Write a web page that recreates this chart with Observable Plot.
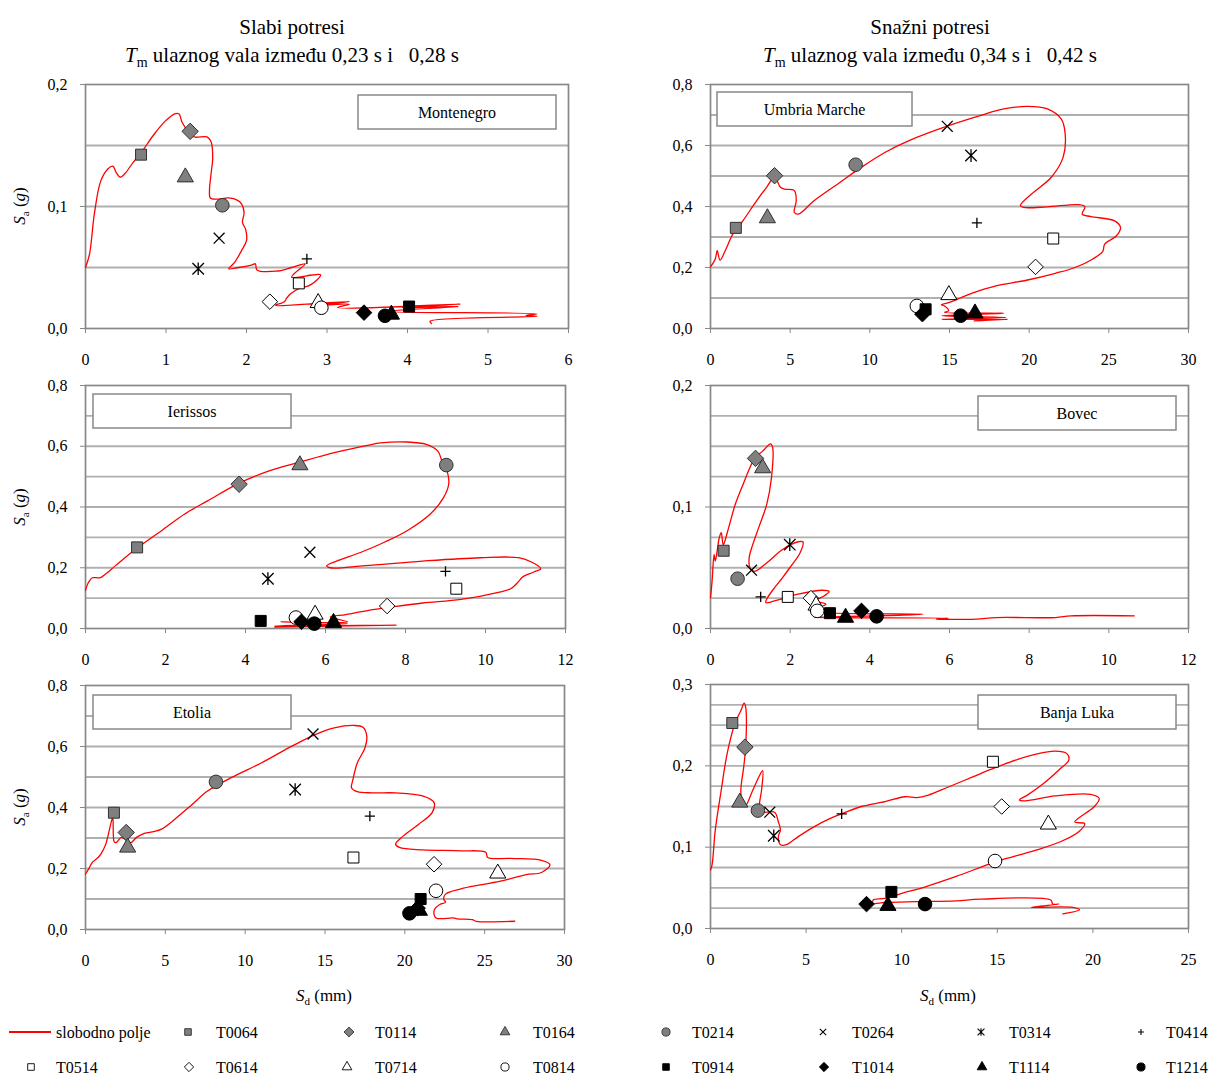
<!DOCTYPE html>
<html><head><meta charset="utf-8">
<script src="https://cdn.jsdelivr.net/npm/d3@7"></script>
<script src="https://cdn.jsdelivr.net/npm/@observablehq/plot@0.6"></script>
<style>
body{margin:0;background:#fff;}
#page{position:relative;width:1219px;height:1076px;font-family:"Liberation Serif",serif;background:#fff;overflow:hidden;}
#page svg, #page svg text{font-family:"Liberation Serif",serif !important;}
#overlay{position:absolute;left:0;top:0;}
</style></head><body><div id="page"></div>
<script>
// ---------- series ----------
const seriesNames = ["T0064","T0114","T0164","T0214","T0264","T0314","T0414","T0514","T0614","T0714","T0814","T0914","T1014","T1114","T1214"];
const freeFieldName = "slobodno polje";

// ---------- Montenegro (weak, top-left) ----------
const montenegroSd = [0.69,1.30,1.24,1.70,1.66,1.40,2.75,2.65,2.29,2.89,2.93,4.02,3.46,3.80,3.72];
const montenegroSa = [0.1425,0.1616,0.124,0.101,0.074,0.049,0.057,0.037,0.022,0.021,0.017,0.018,0.013,0.0115,0.0104];
const montenegroCurve = [[0,0.050],[0.05,0.061],[0.11,0.094],[0.19,0.121],[0.28,0.131],[0.34,0.133],[0.38,0.128],[0.43,0.124],[0.49,0.127],[0.59,0.136],[0.69,0.144],[0.85,0.159],[0.99,0.170],[1.11,0.176],[1.16,0.176],[1.20,0.169],[1.28,0.161],[1.35,0.157],[1.51,0.157],[1.56,0.153],[1.58,0.140],[1.56,0.127],[1.54,0.113],[1.55,0.107],[1.63,0.106],[1.78,0.107],[1.89,0.105],[1.94,0.102],[1.97,0.095],[1.95,0.087],[1.99,0.081],[2.00,0.072],[1.94,0.064],[1.85,0.054],[1.78,0.049],[1.90,0.050],[2.06,0.052],[2.11,0.053],[2.13,0.048],[2.37,0.047],[2.56,0.050],[2.73,0.053],[2.61,0.046],[2.56,0.042],[2.92,0.044],[2.80,0.036],[2.63,0.032],[2.54,0.028],[2.50,0.025],[2.47,0.022],[2.36,0.019],[2.75,0.020],[3.28,0.022],[2.90,0.019],[3.28,0.020],[3.13,0.017],[4.66,0.020],[3.94,0.017],[4.63,0.018],[3.75,0.014],[5.61,0.012],[5.47,0.0107],[5.61,0.010],[4.28,0.006],[4.30,0.004]];

// ---------- Umbria Marche (strong, top-right) ----------
const umbriaSd = [1.59,4.02,3.57,9.11,14.86,16.35,16.72,21.51,20.4,14.96,12.95,13.5,13.3,16.6,15.7];
const umbriaSa = [0.33,0.501,0.362,0.537,0.663,0.567,0.346,0.295,0.202,0.110,0.074,0.063,0.047,0.050,0.042];
const umbriaCurve = [[0,0.202],[0.30,0.228],[0.42,0.255],[0.60,0.224],[0.92,0.255],[1.41,0.310],[2.03,0.353],[2.90,0.419],[3.52,0.463],[4.02,0.496],[4.39,0.463],[4.64,0.457],[5.26,0.452],[5.38,0.419],[5.26,0.381],[5.51,0.375],[6.50,0.419],[7.99,0.474],[9.48,0.529],[10.97,0.578],[12.46,0.616],[14.94,0.665],[16.92,0.698],[18.41,0.720],[19.90,0.728],[21.14,0.720],[22.01,0.687],[22.26,0.638],[22.13,0.561],[21.39,0.496],[20.15,0.441],[19.45,0.403],[19.65,0.397],[21.14,0.399],[23.13,0.406],[23.50,0.399],[23.33,0.375],[23.87,0.367],[25.36,0.353],[25.73,0.332],[25.48,0.304],[24.74,0.277],[24.62,0.253],[24.00,0.228],[22.88,0.200],[21.64,0.181],[19.90,0.159],[17.92,0.140],[16.43,0.116],[15.68,0.100],[14.94,0.085],[14.49,0.078],[14.69,0.074],[14.94,0.058],[14.69,0.053],[18.41,0.050],[14.51,0.042],[18.53,0.036],[14.51,0.030],[18.66,0.030],[16.55,0.025]];

// ---------- Ierissos (weak, middle-left) ----------
const ierissosSd = [1.29,3.84,5.36,9.02,5.61,4.56,9.0,9.27,7.54,5.74,5.26,4.38,5.40,6.20,5.72];
const ierissosSa = [0.267,0.475,0.538,0.538,0.251,0.164,0.188,0.131,0.074,0.046,0.036,0.025,0.022,0.019,0.016];
const ierissosCurve = [[0,0.126],[0.08,0.153],[0.17,0.167],[0.36,0.167],[0.51,0.180],[0.75,0.207],[1.29,0.265],[1.90,0.322],[2.48,0.377],[3.05,0.420],[3.82,0.477],[4.59,0.519],[5.36,0.548],[6.22,0.579],[7.08,0.604],[7.37,0.611],[8.04,0.614],[8.52,0.606],[8.81,0.584],[8.91,0.551],[9.05,0.513],[9.08,0.475],[8.95,0.431],[8.62,0.377],[8.04,0.322],[7.47,0.284],[6.89,0.251],[6.32,0.224],[6.03,0.207],[6.12,0.200],[6.99,0.207],[8.43,0.222],[9.87,0.233],[10.83,0.233],[11.16,0.218],[11.38,0.197],[11.21,0.186],[10.92,0.169],[10.83,0.155],[10.63,0.131],[10.35,0.120],[9.39,0.096],[8.43,0.084],[7.66,0.071],[7.08,0.060],[6.51,0.046],[6.12,0.038],[6.55,0.022],[4.88,0.022],[6.55,0.016],[4.73,0.008],[7.77,0.011],[4.73,0.005]];

// ---------- Bovec (strong, middle-right) ----------
const bovecSd = [0.33,1.13,1.31,0.68,1.03,1.99,1.26,1.94,2.52,2.65,2.68,3.00,3.79,3.39,4.17];
const bovecSa = [0.064,0.140,0.132,0.041,0.048,0.069,0.026,0.026,0.025,0.019,0.0145,0.0126,0.0145,0.009,0.010];
const bovecCurve = [[0,0.0254],[0.04,0.039],[0.09,0.061],[0.12,0.0555],[0.22,0.0747],[0.27,0.0788],[0.32,0.069],[0.42,0.0788],[0.62,0.102],[0.81,0.118],[1.11,0.140],[1.31,0.146],[1.51,0.152],[1.56,0.149],[1.53,0.124],[1.41,0.102],[1.21,0.083],[1.06,0.069],[0.97,0.058],[0.99,0.050],[1.11,0.047],[1.41,0.054],[1.81,0.065],[2.20,0.0714],[2.32,0.0714],[2.25,0.0624],[1.99,0.050],[1.81,0.0419],[1.61,0.0337],[1.41,0.0241],[1.39,0.0213],[1.61,0.0227],[2.20,0.0282],[2.80,0.0315],[2.98,0.0304],[2.85,0.0268],[2.65,0.0227],[2.90,0.020],[2.50,0.0145],[5.33,0.0118],[2.60,0.009],[5.97,0.0085],[5.67,0.0077],[6.67,0.0077],[7.17,0.009],[8.66,0.009],[9.05,0.0104],[10.64,0.0104]];

// ---------- Etolia (weak, bottom-left) ----------
const etoliaSd = [1.78,2.55,2.64,8.17,14.25,13.13,17.81,16.78,21.83,25.82,21.95,20.99,20.8,20.91,20.29];
const etoliaSa = [0.383,0.318,0.269,0.484,0.641,0.459,0.372,0.236,0.214,0.184,0.127,0.100,0.070,0.062,0.053];
const etoliaCurve = [[0,0.182],[0.19,0.198],[0.43,0.220],[0.79,0.236],[0.96,0.247],[1.27,0.280],[1.63,0.356],[1.71,0.367],[1.80,0.287],[1.92,0.285],[2.24,0.302],[2.60,0.291],[2.84,0.285],[3.20,0.302],[3.68,0.315],[4.28,0.321],[4.76,0.329],[5.72,0.367],[6.68,0.410],[7.64,0.454],[9.09,0.497],[11.01,0.546],[12.93,0.601],[14.38,0.639],[15.58,0.661],[16.78,0.669],[17.38,0.663],[17.62,0.633],[17.50,0.595],[17.02,0.546],[16.73,0.487],[16.66,0.465],[17.02,0.452],[17.98,0.448],[19.42,0.448],[21.11,0.438],[21.83,0.416],[21.71,0.383],[20.87,0.345],[19.91,0.307],[19.42,0.280],[19.66,0.269],[21.11,0.261],[23.51,0.258],[25.07,0.253],[25.19,0.236],[26.63,0.233],[28.56,0.227],[29.09,0.212],[28.56,0.187],[27.60,0.180],[26.15,0.160],[24.71,0.146],[23.51,0.133],[22.55,0.116],[22.43,0.100],[22.55,0.089],[22.19,0.082],[21.83,0.062],[21.95,0.038],[23.03,0.038],[23.27,0.035],[24.23,0.032],[24.47,0.027],[26.88,0.027]];

// ---------- Banja Luka (strong, bottom-right) ----------
const banjaLukaSd = [1.14,1.80,1.53,2.48,3.10,3.31,6.86,14.77,15.23,17.67,14.88,9.46,8.16,9.28,11.22];
const banjaLukaSa = [0.2526,0.223,0.155,0.145,0.143,0.114,0.141,0.205,0.150,0.128,0.083,0.045,0.030,0.028,0.030];
const banjaLukaCurve = [[0,0.072],[0.08,0.078],[0.25,0.121],[0.56,0.170],[0.87,0.215],[1.28,0.252],[1.59,0.268],[1.76,0.277],[1.84,0.272],[1.84,0.223],[1.74,0.199],[1.59,0.166],[1.80,0.150],[2.21,0.170],[2.52,0.186],[2.73,0.194],[2.67,0.170],[2.56,0.152],[2.62,0.143],[3.35,0.143],[3.55,0.131],[3.66,0.121],[3.55,0.113],[3.66,0.103],[3.97,0.103],[4.59,0.113],[5.41,0.125],[6.24,0.135],[7.07,0.143],[7.89,0.150],[9.13,0.156],[10.17,0.162],[10.79,0.161],[11.40,0.164],[12.44,0.174],[13.68,0.186],[14.92,0.198],[15.95,0.207],[16.98,0.214],[18.02,0.218],[18.64,0.215],[18.74,0.207],[18.22,0.195],[17.40,0.178],[16.57,0.164],[16.16,0.158],[16.47,0.157],[18.02,0.163],[19.88,0.165],[20.33,0.160],[20.08,0.150],[19.05,0.131],[19.57,0.129],[19.26,0.119],[18.33,0.107],[16.98,0.096],[14.92,0.082],[12.85,0.064],[11.20,0.051],[9.96,0.043],[9.13,0.037],[8.51,0.035],[8.51,0.031],[9.13,0.032],[10.79,0.033],[12.85,0.034],[14.09,0.036],[17.80,0.035],[17.90,0.030],[18.22,0.030],[16.78,0.026],[18.95,0.026],[19.30,0.023],[18.43,0.018]];

// ---------- axis ticks ----------
const ticksX6 = [0,1,2,3,4,5,6];
const ticksX12 = [0,2,4,6,8,10,12];
const ticksX25 = [0,5,10,15,20,25];
const ticksX30 = [0,5,10,15,20,25,30];
const ticksY02 = [0,0.1,0.2];
const ticksY03 = [0,0.1,0.2,0.3];
const ticksY08 = [0,0.2,0.4,0.6,0.8];
const grid02 = [0.05,0.1,0.15];
const grid08 = [0.1,0.2,0.3,0.4,0.5,0.6,0.7];
const grid02fine = [0.025,0.05,0.075,0.1,0.125,0.15,0.175];
const grid03fine = [0.025,0.05,0.075,0.1,0.125,0.15,0.175,0.2,0.225,0.25,0.275];

// ---------- marker styles ----------
const asteriskX = {draw(ctx, size){ const r = Math.sqrt(size)*0.6; ctx.moveTo(-r,-r); ctx.lineTo(r,r); ctx.moveTo(-r,r); ctx.lineTo(r,-r); ctx.moveTo(0,-r*1.1); ctx.lineTo(0,r*1.1); }};
const GRAY = "#7f7f7f";
const markerStyle = [
  {symbol:"square", fill:GRAY, stroke:"#303030", r:6.2},
  {symbol:"diamond2", fill:GRAY, stroke:"#303030", r:7.4},
  {symbol:"triangle", fill:GRAY, stroke:"#303030", r:6.0},
  {symbol:"circle", fill:GRAY, stroke:"#303030", r:6.8},
  {symbol:"times", fill:"none", stroke:"#000", r:5, sw:1.3},
  {symbol:asteriskX, fill:"none", stroke:"#000", r:5.4, sw:1.3},
  {symbol:"plus", fill:"none", stroke:"#000", r:3.4, sw:1.3},
  {symbol:"square", fill:"#fff", stroke:"#000", r:6.2},
  {symbol:"diamond2", fill:"#fff", stroke:"#000", r:7.0},
  {symbol:"triangle", fill:"#fff", stroke:"#000", r:6.0},
  {symbol:"circle", fill:"#fff", stroke:"#000", r:6.8},
  {symbol:"square", fill:"#000", stroke:"#000", r:6.2},
  {symbol:"diamond2", fill:"#000", stroke:"#000", r:7.0},
  {symbol:"triangle", fill:"#000", stroke:"#000", r:6.0},
  {symbol:"circle", fill:"#000", stroke:"#000", r:6.8}
];

const page = document.getElementById("page");
const FONT = '"Liberation Serif", serif';
const fmtDec = d => d3.format(".1f")(d).replace(".", ",");
const fmtInt = d => String(d);

function panel(o){
  const ml = 60, mr = 25, mt = 12, mb = 45;
  const pts = o.sd.map((x,i)=>({x, y:o.sa[i], s:i}));
  const curveData = o.curve.map(([x,y])=>({x,y}));
  const marks = [
    Plot.ruleY(o.grid, {stroke:"#b0b0b0", strokeWidth:1.9}),
    Plot.frame({stroke:"#888", strokeWidth:1.7}),
    Plot.axisX({ticks:o.xTicks, tickFormat:fmtInt, tickSize:5, tickPadding:20, stroke:"#888", fill:"#000", fontSize:16, fontFamily:"Liberation Serif", label:null}),
    Plot.axisY({ticks:o.yTicks, tickFormat:fmtDec, tickSize:5, tickPadding:13, stroke:"#888", fill:"#000", fontSize:16, fontFamily:"Liberation Serif", label:null}),
    Plot.line(curveData, {x:"x", y:"y", stroke:"#ff0000", strokeWidth:1.3, curve:"catmull-rom"})
  ];
  markerStyle.forEach((st,i)=>{
    marks.push(Plot.dot(pts.filter(p=>p.s===i), {x:"x", y:"y", symbol:st.symbol, fill:st.fill, stroke:st.stroke, r:st.r, strokeWidth:st.sw||1}));
  });
  const svg = Plot.plot({
    width: ml+o.w+mr, height: mt+o.h+mb,
    marginLeft: ml, marginRight: mr, marginTop: mt, marginBottom: mb,
    x:{domain:[0,o.xMax]}, y:{domain:[0,o.yMax]},
    style:{fontFamily:FONT, fontSize:"16px", background:"transparent", overflow:"visible"},
    marks
  });
  svg.style.position = "absolute";
  svg.style.left = (o.left-ml)+"px";
  svg.style.top = (o.top-mt)+"px";
  page.appendChild(svg);
}

panel({left:85, top:84, w:483, h:244, xMax:6, xTicks:ticksX6, yMax:0.2, yTicks:ticksY02, grid:grid02, sd:montenegroSd, sa:montenegroSa, curve:montenegroCurve});
panel({left:710, top:84, w:478, h:244, xMax:30, xTicks:ticksX30, yMax:0.8, yTicks:ticksY08, grid:grid08, sd:umbriaSd, sa:umbriaSa, curve:umbriaCurve});
panel({left:85, top:385, w:480, h:243, xMax:12, xTicks:ticksX12, yMax:0.8, yTicks:ticksY08, grid:grid08, sd:ierissosSd, sa:ierissosSa, curve:ierissosCurve});
panel({left:710, top:385, w:478, h:243, xMax:12, xTicks:ticksX12, yMax:0.2, yTicks:ticksY02, grid:grid02fine, sd:bovecSd, sa:bovecSa, curve:bovecCurve});
panel({left:85, top:685, w:479, h:244, xMax:30, xTicks:ticksX30, yMax:0.8, yTicks:ticksY08, grid:grid08, sd:etoliaSd, sa:etoliaSa, curve:etoliaCurve});
panel({left:710, top:684, w:478, h:244, xMax:25, xTicks:ticksX25, yMax:0.3, yTicks:ticksY03, grid:grid03fine, sd:banjaLukaSd, sa:banjaLukaSa, curve:banjaLukaCurve});

// ---------- overlay: titles, labels, boxes, legend ----------
const ov = d3.select(page).append("svg").attr("id","overlay").attr("width",1219).attr("height",1076)
  .attr("font-family", FONT);
const txt = (sel) => sel.append("text").attr("font-family", FONT);

// titles
const titles = [
  {x:292, t1:"Slabi potresi", range:"0,23 s i\u00a0\u00a0 0,28 s"},
  {x:930, t1:"Snažni potresi", range:"0,34 s i\u00a0\u00a0 0,42 s"}
];
titles.forEach(t=>{
  txt(ov).attr("x",t.x).attr("y",34).attr("text-anchor","middle").attr("font-size",21).text(t.t1);
  const s = txt(ov).attr("x",t.x).attr("y",62).attr("text-anchor","middle").attr("font-size",21);
  s.append("tspan").attr("font-style","italic").text("T");
  s.append("tspan").attr("font-size",14).attr("dy",5).text("m");
  s.append("tspan").attr("dy",-5).text(" ulaznog vala između " + t.range);
});

// y labels
[206, 507, 807].forEach(cy=>{
  const tx = txt(ov).attr("transform",`translate(25,${cy}) rotate(-90)`).attr("text-anchor","middle").attr("font-size",17);
  tx.append("tspan").attr("font-style","italic").text("S");
  tx.append("tspan").attr("font-size",11).attr("dy",4).text("a");
  tx.append("tspan").attr("dy",-4).text(" (");
  tx.append("tspan").attr("font-style","italic").text("g");
  tx.append("tspan").text(")");
});
// x labels
[324, 948].forEach(cx=>{
  const tx = txt(ov).attr("x",cx).attr("y",1001).attr("text-anchor","middle").attr("font-size",17);
  tx.append("tspan").attr("font-style","italic").text("S");
  tx.append("tspan").attr("font-size",11).attr("dy",4).text("d");
  tx.append("tspan").attr("dy",-4).text(" (mm)");
});

// panel name boxes
const boxes = [
  {x:358, y:95, w:198, h:34, name:"Montenegro"},
  {x:717, y:92, w:195, h:34, name:"Umbria Marche"},
  {x:93, y:394, w:198, h:34, name:"Ierissos"},
  {x:978, y:396, w:198, h:34, name:"Bovec"},
  {x:93, y:695, w:198, h:34, name:"Etolia"},
  {x:978, y:695, w:198, h:34, name:"Banja Luka"}
];
boxes.forEach(b=>{
  ov.append("rect").attr("x",b.x).attr("y",b.y).attr("width",b.w).attr("height",b.h).attr("fill","#fff").attr("stroke","#888").attr("stroke-width",1.5);
  txt(ov).attr("x",b.x+b.w/2).attr("y",b.y+b.h/2+5.5).attr("text-anchor","middle").attr("font-size",16).text(b.name);
});

// legend
const legendRow1Y = 1032, legendRow2Y = 1067;
ov.append("line").attr("x1",9).attr("x2",51).attr("y1",legendRow1Y).attr("y2",legendRow1Y).attr("stroke","#ff0000").attr("stroke-width",1.8);
txt(ov).attr("x",56).attr("y",legendRow1Y+5.5).attr("font-size",16).text(freeFieldName);
const legendMarkerX = [188,349,505,666,823,981,1141, 31,189,347,505,666,824,982,1141];
const legendTextX   = [216,375,533,692,852,1009,1166, 56,216,375,533,692,852,1009,1166];
function symPath(sym, r){
  const map = {square:d3.symbolSquare, diamond2:d3.symbolDiamond2, triangle:d3.symbolTriangle, circle:d3.symbolCircle, times:d3.symbolTimes, plus:d3.symbolPlus};
  const type = typeof sym === "string" ? map[sym] : sym;
  return d3.symbol(type, Math.PI*r*r)();
}
seriesNames.forEach((name,i)=>{
  const st = markerStyle[i];
  const y = i<7 ? legendRow1Y : legendRow2Y;
  ov.append("path").attr("d", symPath(st.symbol, st.r*0.6)).attr("transform",`translate(${legendMarkerX[i]},${y})`)
    .attr("fill",st.fill).attr("stroke",st.stroke).attr("stroke-width",st.sw?1.1:0.9);
  txt(ov).attr("x",legendTextX[i]).attr("y",y+5.5).attr("font-size",16).text(name);
});
</script></body></html>
